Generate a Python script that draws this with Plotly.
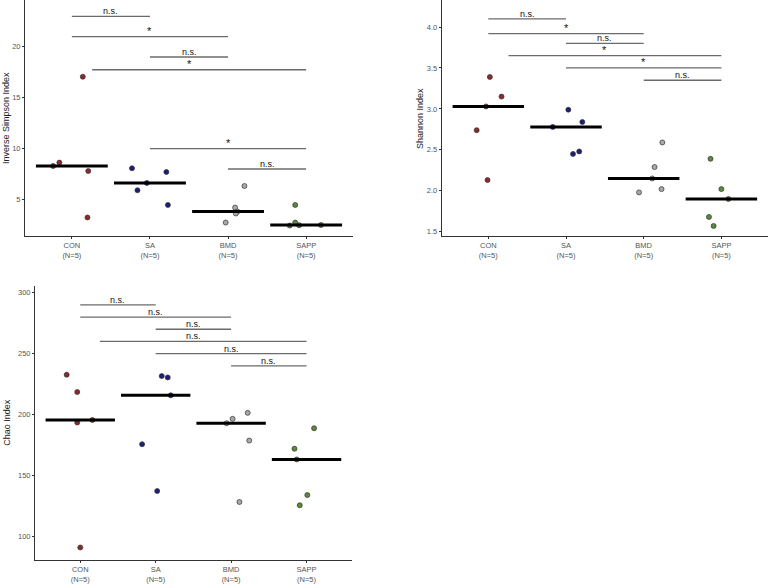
import numpy as np
import plotly.graph_objects as go

groups = ["CON", "SA", "BMD", "SAPP"]
tick_text = ["CON<br>(N=5)", "SA<br>(N=5)", "BMD<br>(N=5)", "SAPP<br>(N=5)"]
colors = ["#8B2A2A", "#1E1E78", "#A8A8A8", "#5A8A3C"]

# Inverse Simpson
invsimp_vals = {
    "CON": [8.29, 8.63, 17.06, 7.80, 3.24],
    "SA": [8.07, 5.91, 6.63, 7.71, 4.47],
    "BMD": [4.21, 3.82, 3.63, 2.74, 6.33],
    "SAPP": [4.47, 2.74, 2.45, 2.48, 2.50],
}
invsimp_jit = {
    "CON": [-0.24, -0.16, 0.14, 0.21, 0.20],
    "SA": [-0.23, -0.16, -0.04, 0.21, 0.23],
    "BMD": [0.09, 0.12, 0.10, -0.03, 0.21],
    "SAPP": [-0.14, -0.14, -0.21, -0.09, 0.19],
}
# Shannon
shannon_vals = {
    "CON": [3.39, 3.15, 3.03, 2.74, 2.13],
    "SA": [2.99, 2.84, 2.78, 2.45, 2.48],
    "BMD": [2.59, 2.29, 2.15, 2.02, 1.98],
    "SAPP": [2.39, 2.02, 1.90, 1.68, 1.57],
}
shannon_jit = {
    "CON": [0.02, 0.17, -0.03, -0.15, -0.01],
    "SA": [0.03, 0.21, -0.17, 0.09, 0.17],
    "BMD": [0.24, 0.14, 0.11, 0.23, -0.06],
    "SAPP": [-0.14, 0.00, 0.09, -0.16, -0.10],
}
# Chao
chao_vals = {
    "CON": [232.7, 218.5, 193.5, 195.6, 91.0],
    "SA": [231.6, 230.5, 215.8, 175.7, 137.3],
    "BMD": [201.4, 196.5, 192.9, 178.7, 128.3],
    "SAPP": [188.8, 172.0, 163.2, 134.0, 125.6],
}
chao_jit = {
    "CON": [-0.18, -0.04, -0.04, 0.16, 0.00],
    "SA": [0.08, 0.16, 0.20, -0.18, 0.02],
    "BMD": [0.22, 0.02, -0.06, 0.24, 0.11],
    "SAPP": [0.10, -0.16, -0.13, 0.01, -0.09],
}

# significance brackets: start group idx, end group idx, y, label
pairs_start = [1, 1, 2, 1.26, 2, 3]
pairs_end = [2, 3, 3, 4, 4, 4]
label_center_start = [1, 1, 2, 1, 2, 3]
invsimp_br_y = [23.0, 21.0, 19.0, 17.75, 10.0, 8.0]
invsimp_br_lab = ["n.s.", "*", "n.s.", "*", "*", "n.s."]
shannon_br_y = [4.10, 3.92, 3.80, 3.65, 3.50, 3.35]
shannon_br_lab = ["n.s.", "*", "n.s.", "*", "*", "n.s."]
chao_br_y = [290, 280, 270, 260, 250, 240]
chao_br_lab = ["n.s."] * 6

W, H = 771, 584
panels = [
    dict(vals=invsimp_vals, jit=invsimp_jit, bry=invsimp_br_y, brl=invsimp_br_lab,
         title="Inverse Simpson Index", x0=25, x1=353, y0=0, y1=237,
         yr=[1.4, 24.6], ticks=[5, 10, 15, 20], tickfmt=None, titlex=6),
    dict(vals=shannon_vals, jit=shannon_jit, bry=shannon_br_y, brl=shannon_br_lab,
         title="Shannon Index", x0=441.7, x1=768, y0=0, y1=237,
         yr=[1.445, 4.33], ticks=[1.5, 2.0, 2.5, 3.0, 3.5, 4.0], tickfmt=".1f", titlex=420),
    dict(vals=chao_vals, jit=chao_jit, bry=chao_br_y, brl=chao_br_lab,
         title="Chao Index", x0=35, x1=351.8, y0=286.7, y1=561.7,
         yr=[80.9, 305.7], ticks=[100, 150, 200, 250, 300], tickfmt=None, titlex=7),
]

fig = go.Figure()
annotations = []
FONT = "Liberation Sans, Arial, sans-serif"

for k, p in enumerate(panels):
    sfx = "" if k == 0 else str(k + 1)
    xa, ya = "x" + sfx, "y" + sfx
    # points
    for gi, g in enumerate(groups):
        xs = [gi + 1 + j for j in p["jit"][g]]
        fig.add_trace(go.Scatter(
            x=xs, y=p["vals"][g], mode="markers", xaxis=xa, yaxis=ya,
            marker=dict(size=5, color=colors[gi], line=dict(color="#333333", width=0.7)),
            showlegend=False, hoverinfo="y"))
    # median lines
    for gi, g in enumerate(groups):
        m = float(np.median(p["vals"][g]))
        fig.add_trace(go.Scatter(
            x=[gi + 1 - 0.46, gi + 1 + 0.46], y=[m, m], mode="lines",
            xaxis=xa, yaxis=ya, line=dict(color="black", width=3),
            showlegend=False, hoverinfo="skip"))
    # brackets
    for s, e, cs, yv, lab in zip(pairs_start, pairs_end, label_center_start, p["bry"], p["brl"]):
        fig.add_trace(go.Scatter(
            x=[s, e], y=[yv, yv], mode="lines", xaxis=xa, yaxis=ya,
            line=dict(color="#6b6b6b", width=1.3), showlegend=False, hoverinfo="skip"))
        annotations.append(dict(
            x=(cs + e) / 2, y=yv, xref=xa, yref=ya, text=lab, showarrow=False,
            xanchor="center", yanchor="bottom", yshift=-2,
            font=dict(family=FONT, size=9 if lab == "n.s." else 11, color="#111111")))
    # y title
    annotations.append(dict(
        x=p["titlex"] / W, y=1 - (p["y0"] + p["y1"]) / 2 / H, xref="paper", yref="paper",
        xanchor="center", yanchor="middle",
        text=p["title"], textangle=-90, showarrow=False,
        font=dict(family=FONT, size=9, color="#222222")))

    axis_common = dict(showline=True, linecolor="#333333", linewidth=1, showgrid=False,
                       zeroline=False, ticks="outside", ticklen=2, tickcolor="#333333",
                       tickfont=dict(family=FONT, size=7.5, color="#555555"))
    fig.layout["xaxis" + sfx] = dict(
        domain=[p["x0"] / W, p["x1"] / W], range=[0.4, 4.6], anchor=ya,
        tickmode="array", tickvals=[1, 2, 3, 4], ticktext=tick_text, **axis_common)
    yd = dict(domain=[1 - p["y1"] / H, 1 - p["y0"] / H], range=p["yr"], anchor=xa,
              tickmode="array", tickvals=p["ticks"], **axis_common)
    if p["tickfmt"]:
        yd["tickformat"] = p["tickfmt"]
    fig.layout["yaxis" + sfx] = yd

fig.update_layout(
    width=W, height=H, margin=dict(l=0, r=0, t=0, b=0),
    plot_bgcolor="white", paper_bgcolor="white", annotations=annotations,
    font=dict(family=FONT))

fig.write_html("out.html", config={"displayModeBar": False},
               post_script="document.body.style.margin='0px';document.body.style.overflow='hidden';")
